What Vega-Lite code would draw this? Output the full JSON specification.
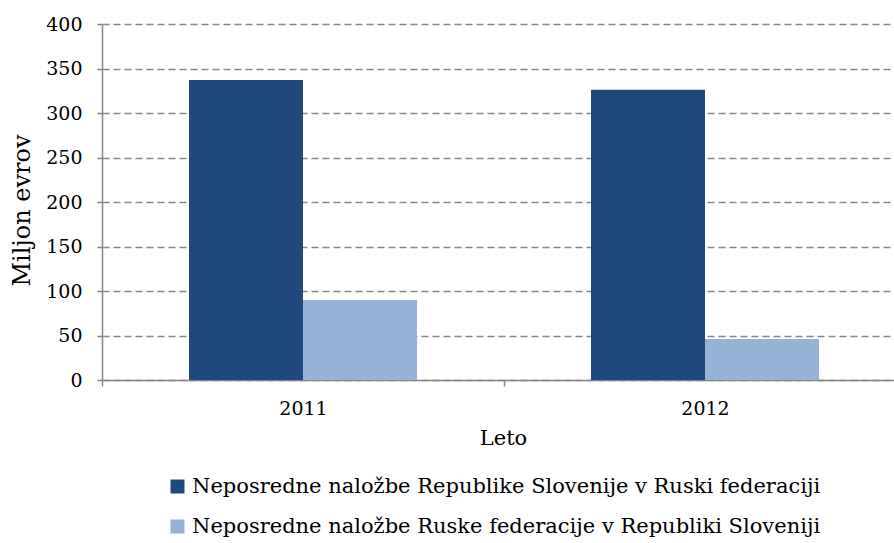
{
  "$schema": "https://vega.github.io/schema/vega-lite/v6.json",
  "autosize": {"type": "none"},
  "padding": {"left": 102, "top": 24, "right": 0, "bottom": 163},
  "width": 792,
  "height": 356,
  "background": "white",
  "config": {
    "view": {"stroke": null},
    "font": "DejaVu Serif"
  },
  "data": {
    "values": [
      {"leto": "2011", "serija": "Neposredne naložbe Republike Slovenije v Ruski federaciji", "vrednost": 337},
      {"leto": "2011", "serija": "Neposredne naložbe Ruske federacije v Republiki Sloveniji", "vrednost": 90},
      {"leto": "2012", "serija": "Neposredne naložbe Republike Slovenije v Ruski federaciji", "vrednost": 326},
      {"leto": "2012", "serija": "Neposredne naložbe Ruske federacije v Republiki Sloveniji", "vrednost": 46}
    ]
  },
  "mark": {"type": "bar"},
  "encoding": {
    "x": {
      "field": "leto",
      "type": "nominal",
      "title": "Leto",
      "scale": {"range": [0, 804], "paddingInner": 0, "paddingOuter": 0},
      "axis": {
        "labelAngle": 0,
        "labelFontSize": 19,
        "labelColor": "#000000",
        "titleFontSize": 21,
        "titleFontWeight": "normal",
        "titleColor": "#000000",
        "titleX": 401,
        "titleY": 58,
        "titleAlign": "center",
        "titleBaseline": "middle",
        "labelPadding": 13,
        "domainColor": "#868686",
        "domainWidth": 1.5,
        "tickColor": "#868686",
        "tickWidth": 1.5,
        "tickSize": 6,
        "tickBand": "extent",
        "grid": false
      }
    },
    "xOffset": {
      "field": "serija",
      "type": "nominal",
      "scale": {"paddingInner": 0, "paddingOuter": 0.763}
    },
    "y": {
      "field": "vrednost",
      "type": "quantitative",
      "title": "Miljon evrov",
      "scale": {"domain": [0, 400]},
      "axis": {
        "values": [0, 50, 100, 150, 200, 250, 300, 350, 400],
        "labelFontSize": 19,
        "labelColor": "#000000",
        "titleFontSize": 24,
        "titleFontWeight": "normal",
        "titleColor": "#000000",
        "titleAngle": -90,
        "titleX": -80,
        "titleY": 186,
        "titleAlign": "center",
        "titleBaseline": "middle",
        "labelPadding": 15,
        "domainColor": "#868686",
        "domainWidth": 1.5,
        "tickColor": "#868686",
        "tickWidth": 1.5,
        "tickSize": 5,
        "grid": true,
        "gridColor": "#868686",
        "gridWidth": 1.5,
        "gridDash": [7, 4]
      }
    },
    "color": {
      "field": "serija",
      "type": "nominal",
      "scale": {
        "domain": ["Neposredne naložbe Republike Slovenije v Ruski federaciji", "Neposredne naložbe Ruske federacije v Republiki Sloveniji"],
        "range": ["#1F497D", "#95B3D7"]
      },
      "legend": {
        "title": null,
        "orient": "none",
        "legendX": 65,
        "legendY": 452,
        "direction": "vertical",
        "symbolType": "square",
        "symbolSize": 196,
        "symbolStrokeWidth": 0,
        "labelFontSize": 21,
        "labelColor": "#000000",
        "labelLimit": 800,
        "labelOffset": 4,
        "rowPadding": 18
      }
    }
  }
}
